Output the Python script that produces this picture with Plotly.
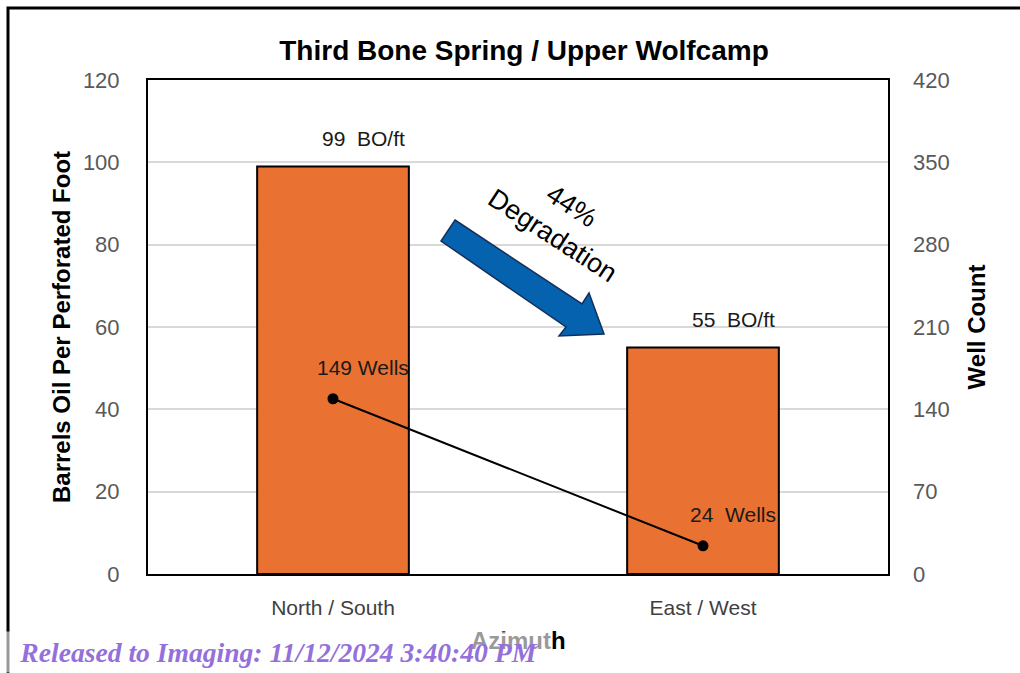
import plotly.graph_objects as go

# Data
categories = ["North / South", "East / West"]
oil_per_ft = [99, 55]          # barrels oil per perforated foot
well_counts = [149, 24]        # number of wells
y1_ticks = [0, 20, 40, 60, 80, 100, 120]
y2_ticks = [0, 70, 140, 210, 280, 350, 420]

W, H = 1020, 673
L, R, T, B = 148, 888, 80, 574   # plot-area edges in pixels


def px(x):
    return (x - L) / (R - L)


def py(y):
    return (B - y) / (B - T)


SANS = "Liberation Sans, Arial"
fig = go.Figure()

fig.add_trace(go.Bar(
    x=categories, y=oil_per_ft, width=0.41,
    marker=dict(color="#E97132", line=dict(color="#000000", width=2)),
    yaxis="y", showlegend=False, hoverinfo="skip",
))

fig.add_trace(go.Scatter(
    x=categories, y=well_counts, yaxis="y2", mode="lines+markers",
    line=dict(color="#000000", width=2),
    marker=dict(color="#000000", size=11),
    showlegend=False, hoverinfo="skip",
))

annotations = []
for cat, v in zip(categories, oil_per_ft):
    annotations.append(dict(
        x=cat, y=v, xref="x", yref="y", text=f"{v}  BO/ft", showarrow=False,
        xshift=30, yshift=28, font=dict(family=SANS, size=21, color="#1a1a1a"),
    ))
for cat, v in zip(categories, well_counts):
    annotations.append(dict(
        x=cat, y=v, xref="x", yref="y2", text=f"{v} Wells" if v >= 100 else f"{v}  Wells",
        showarrow=False, xshift=30, yshift=31,
        font=dict(family=SANS, size=21, color="#1a1a1a"),
    ))

# rotated callout text beside the arrow
annotations.append(dict(
    x=px(562), y=py(220), xref="paper", yref="paper", text="44%<br>Degradation",
    showarrow=False, textangle=33, xanchor="center", yanchor="middle",
    font=dict(family=SANS, size=27, color="#000000"),
))

# category axis title
annotations.append(dict(
    x=px(518), y=py(640), xref="paper", yref="paper", text="<b>Azimuth</b>",
    showarrow=False, xanchor="center", yanchor="middle",
    font=dict(family=SANS, size=24, color="#000000"),
))

# release stamp, on a translucent white strip
annotations.append(dict(
    x=px(5), y=py(652), xref="paper", yref="paper",
    text="<b><i>Released to Imaging: 11/12/2024 3:40:40 PM</i></b>",
    showarrow=False, xanchor="left", yanchor="middle", align="center",
    width=539, height=34, borderpad=3, bgcolor="rgba(255,255,255,0.6)",
    font=dict(family="Liberation Serif, Times New Roman", size=27.6, color="#9370DB"),
))

# block arrow
arrow_pts = [(455, 220), (582, 304), (589, 293), (604, 334), (559, 336), (566, 327), (441, 241)]
path = "M " + " L ".join(f"{px(a):.5f},{py(b):.5f}" for a, b in arrow_pts) + " Z"
shapes = [
    dict(type="path", xref="paper", yref="paper", path=path,
         fillcolor="#0562AE", line=dict(color="#14305A", width=1.5), layer="above"),
    # outer frame
    dict(type="rect", xref="paper", yref="paper",
         x0=px(8), x1=px(1030), y0=py(8), y1=py(690),
         line=dict(color="#000000", width=3), fillcolor="rgba(0,0,0,0)", layer="below"),
]

tick_font = dict(family=SANS, size=22, color="#595959")

fig.update_layout(
    width=W, height=H,
    margin=dict(l=L, r=W - R, t=T, b=H - B, autoexpand=False),
    paper_bgcolor="#ffffff", plot_bgcolor="#ffffff",
    title=dict(text="<b>Third Bone Spring / Upper Wolfcamp</b>", xref="container",
               x=524 / W, xanchor="center", y=1 - 50 / H, yanchor="middle",
               font=dict(family=SANS, size=28, color="#000000")),
    xaxis=dict(showline=True, linecolor="#000000", linewidth=2, mirror=True,
               showgrid=False, ticks="", ticklabelstandoff=14,
               tickfont=dict(family=SANS, size=21, color="#404040")),
    yaxis=dict(range=[0, 120], tickvals=y1_ticks, showline=True, linecolor="#000000",
               linewidth=2, mirror=True, showgrid=True, gridcolor="#D9D9D9", gridwidth=2,
               zeroline=False, ticks="", ticklabelstandoff=22, tickfont=tick_font,
               title=dict(text="<b>Barrels Oil Per Perforated Foot</b>", standoff=5,
                          font=dict(family=SANS, size=24, color="#000000"))),
    yaxis2=dict(range=[0, 420], tickvals=y2_ticks, overlaying="y", side="right",
                showgrid=False, zeroline=False, showline=False, ticks="",
                ticklabelstandoff=24, tickfont=tick_font,
                title=dict(text="<b>Well Count</b>", standoff=19,
                           font=dict(family=SANS, size=24, color="#000000"))),
    annotations=annotations,
    shapes=shapes,
)

fig.write_html("out.html")
